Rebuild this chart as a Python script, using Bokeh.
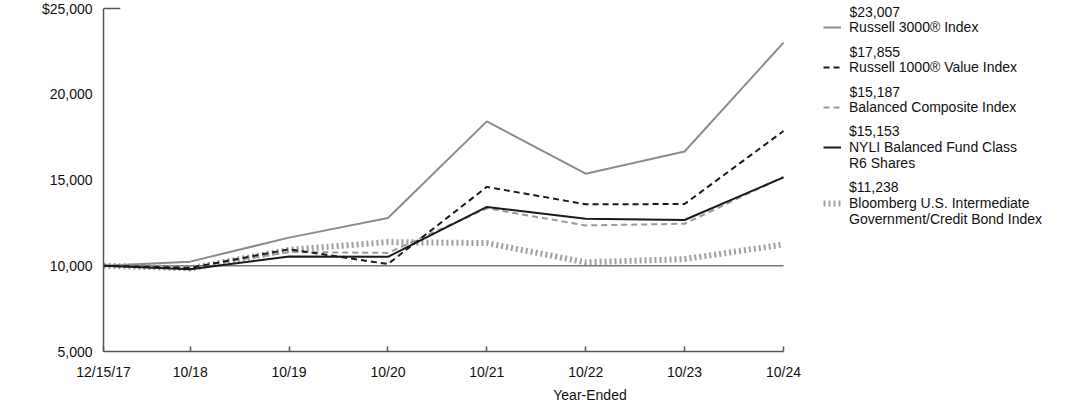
from datetime import date
from bokeh.plotting import figure
from bokeh.models import FixedTicker, Legend, LegendItem, NumeralTickFormatter, Label
from bokeh.embed import file_html
from bokeh.resources import INLINE

# ---------------- data ----------------
dates = [date(2017, 12, 15), date(2018, 10, 31), date(2019, 10, 31), date(2020, 10, 31),
         date(2021, 10, 31), date(2022, 10, 31), date(2023, 10, 31), date(2024, 10, 31)]
tick_labels = ["12/15/17", "10/18", "10/19", "10/20", "10/21", "10/22", "10/23", "10/24"]

russell_3000 = [10000, 10240, 11640, 12780, 18420, 15370, 16660, 23007]
russell_1000_value = [10000, 9880, 10960, 10100, 14600, 13580, 13600, 17855]
balanced_composite = [10000, 9900, 10800, 10750, 13350, 12350, 12450, 15187]
nyli_balanced_r6 = [10000, 9800, 10540, 10520, 13430, 12740, 12670, 15153]
bloomberg_int_gc = [10000, 9850, 10930, 11380, 11320, 10200, 10390, 11238]

series_names = ["Russell 3000\u00ae Index", "Russell 1000\u00ae Value Index",
                "Balanced Composite Index", "NYLI Balanced Fund Class\nR6 Shares",
                "Bloomberg U.S. Intermediate\nGovernment/Credit Bond Index"]

y_ticks = [5000, 10000, 15000, 20000, 25000]
y_top_label = "$25,000"
baseline_value = 10000
x_axis_title = "Year-Ended"


def frac_year(d):
    start = date(d.year, 1, 1)
    days = (date(d.year + 1, 1, 1) - start).days
    return d.year + (d - start).days / days


xs = [frac_year(d) for d in dates]

# ---------------- layout (pixels) ----------------
FONT = "Liberation Sans"
FONT_PX = 14
FONT_H = 15.6         # measured height of one line of 14px text
LINE_PITCH = 16       # rendered pitch of multi-line legend labels
FIG_W, FIG_H = 1076, 401
LEFT = 103            # y axis position
DATA_W = 680          # width of the dated part of the plot
FRAME_H = 351         # frame spans from the top of the figure to the x axis
TOP_PAD = 8           # space above the $25,000 level inside the frame
GLYPH_W, STANDOFF = 18, 8
LEGEND_X = 720        # legend sample offset from the y axis
LEGEND_VALUE_Y = [11.7, 51.7, 91.7, 131, 187]   # centre of each legend's first line
NAME_GAP = 15.5       # value line -> name line for the one-line names

frame_w = FIG_W - LEFT
x_end = xs[0] + (xs[-1] - xs[0]) * frame_w / DATA_W
y_span = y_ticks[-1] - y_ticks[0]
y_end = y_ticks[-1] + y_span * TOP_PAD / (FRAME_H - TOP_PAD)

p = figure(frame_width=frame_w, frame_height=FRAME_H, output_backend="svg", toolbar_location=None,
           x_range=(xs[0], x_end), y_range=(y_ticks[0], y_end),
           min_border_left=LEFT, min_border_right=0, min_border_top=0, min_border_bottom=0)
p.outline_line_color = None
p.grid.visible = False
p.background_fill_color = "white"

# axes
xa = p.xaxis[0]
xa.ticker = FixedTicker(ticks=xs)
xa.bounds = (xs[0], xs[-1])
xa.major_label_overrides = {x: t for x, t in zip(xs, tick_labels)}
xa.major_tick_in = 5
xa.major_tick_out = 0
xa.minor_tick_line_color = None
xa.major_label_standoff = 12
xa.axis_label = x_axis_title
xa.axis_label_standoff = 4
xa.axis_label_text_font_style = "normal"

ya = p.yaxis[0]
ya.ticker = FixedTicker(ticks=y_ticks)
ya.bounds = (y_ticks[0], y_ticks[-1])
ya.formatter = NumeralTickFormatter(format="0,0")
ya.major_label_overrides = {y_ticks[-1]: y_top_label}
ya.major_tick_in = 0
ya.major_tick_out = 0
ya.minor_tick_line_color = None
ya.major_label_standoff = 11

for ax in (xa, ya):
    ax.axis_line_color = "#555555"
    ax.axis_line_width = 1.5
    ax.major_tick_line_color = "#555555"
    ax.major_tick_line_width = 1.5
    ax.major_label_text_font = FONT
    ax.major_label_text_font_size = f"{FONT_PX}px"
    ax.major_label_text_color = "#111111"
    ax.axis_label_text_font = FONT
    ax.axis_label_text_font_size = f"{FONT_PX}px"
    ax.axis_label_text_color = "#111111"

# top cap of the y axis
p.segment(x0=[xs[0]], y0=[y_ticks[-1]], x1=[xs[0] + 0.17], y1=[y_ticks[-1]],
          line_color="#555555", line_width=1.5)

# $10,000 reference line across the dated span
p.segment(x0=[xs[0]], y0=[baseline_value], x1=[xs[-1]], y1=[baseline_value],
          line_color="#777777", line_width=1.5)

styles = [
    dict(line_color="#8c8c8c", line_width=2),
    dict(line_color="#1a1a1a", line_width=2, line_dash="6 4"),
    dict(line_color="#9a9a9a", line_width=2, line_dash="6 4"),
    dict(line_color="#1a1a1a", line_width=2),
    dict(line_color="#a0a0a0", line_width=6, line_dash="2 3"),
]
all_series = [russell_3000, russell_1000_value, balanced_composite, nyli_balanced_r6, bloomberg_int_gc]
draw_order = [4, 0, 2, 1, 3]
renderers = {}
for i in draw_order:
    renderers[i] = p.line(xs, all_series[i], **styles[i])

text_x = LEGEND_X + GLYPH_W + STANDOFF
legend_kw = dict(glyph_width=GLYPH_W, glyph_height=12, label_standoff=STANDOFF, spacing=0,
                 padding=0, margin=0, border_line_color=None, background_fill_alpha=0,
                 label_text_font=FONT, label_text_font_size=f"{FONT_PX}px",
                 label_text_line_height=0.94, label_height=12,
                 label_text_color="#111111")

for i, (vals, name) in enumerate(zip(all_series, series_names)):
    value_text = f"${vals[-1]:,}"
    vy = LEGEND_VALUE_Y[i]
    if "\n" in name:
        # value + two-line name in one label: the sample sits on its middle line
        label = f"{value_text}\n{name}"
        bottom = vy - FONT_H / 2 + FONT_H + 2 * LINE_PITCH
    else:
        # value drawn on its own above a one-line legend entry
        p.add_layout(Label(x=text_x, y=FRAME_H - vy, x_units="screen", y_units="screen",
                           text=value_text, text_font=FONT, text_font_size=f"{FONT_PX}px",
                           text_color="#111111", text_baseline="middle", text_align="left"))
        label = name
        bottom = vy + NAME_GAP + FONT_H / 2
    lg = Legend(items=[LegendItem(label=label, renderers=[renderers[i]])],
                location=(LEGEND_X, FRAME_H - bottom), **legend_kw)
    p.add_layout(lg, "center")

open("out.html", "w").write(file_html(p, INLINE))
